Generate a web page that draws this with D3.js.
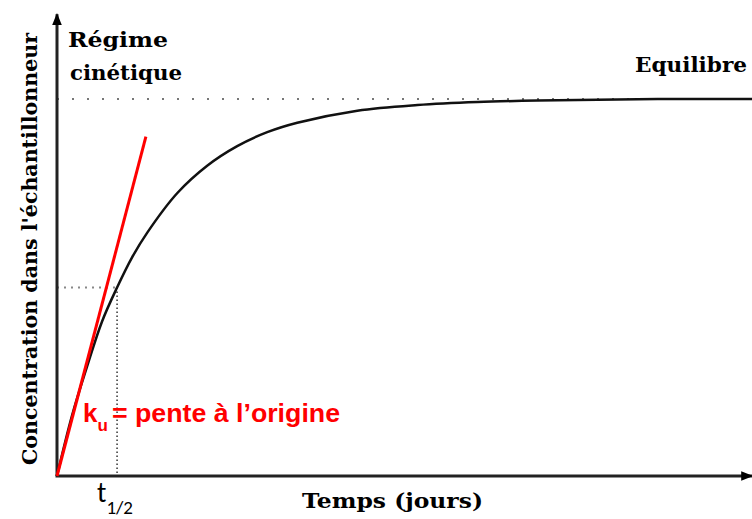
<!DOCTYPE html>
<html>
<head>
<meta charset="utf-8">
<style>
  body { margin: 0; background: #fff; }
  svg text { font-family: "DejaVu Serif", serif; }
</style>
</head>
<body>
<div id="chart"></div>
<script src="https://cdn.jsdelivr.net/npm/d3@7"></script>
<script>
// --- data (time in units of t1/2, concentration relative to equilibrium)
var times  = [0, 0.25, 0.5, 0.75, 1, 1.25, 1.5, 2, 2.5, 3, 3.5, 4, 5, 6, 7, 8, 9, 10, 11.57];
var concs  = [0, 0.16, 0.29, 0.41, 0.5, 0.58, 0.645, 0.75, 0.823, 0.875, 0.912, 0.937, 0.969, 0.984, 0.992, 0.996, 0.998, 1, 1];
var slopeT = [0, 1.48];          // tangent at origin
var slopeC = [0, 0.9];
var tHalf = 1, cHalf = 0.5, cEq = 1;
var xMax = 11.57, yMax = 1.225;

var width = 752, height = 519;
var svg = d3.select("#chart").append("svg")
    .attr("width", width)
    .attr("height", height);

var x = d3.scaleLinear().domain([0, xMax]).range([57, 752]);
var y = d3.scaleLinear().domain([0, 1]).range([476, 99]);

var curve = times.map(function(t, i) { return [t, concs[i]]; });
var tangent = slopeT.map(function(t, i) { return [t, slopeC[i]]; });

// arrow heads
var defs = svg.append("defs");
defs.append("marker")
    .attr("id", "arrow")
    .attr("viewBox", "0 0 10 10")
    .attr("refX", 9).attr("refY", 5)
    .attr("markerWidth", 4).attr("markerHeight", 4)
    .attr("markerUnits", "strokeWidth")
    .attr("orient", "auto")
  .append("path")
    .attr("d", "M0,1 L10,5 L0,9 Z")
    .attr("fill", "#000");

// dotted guide lines
svg.append("line")
    .attr("x1", x(0)).attr("x2", x(xMax))
    .attr("y1", y(cEq)).attr("y2", y(cEq))
    .attr("stroke", "#777").attr("stroke-width", 2)
    .attr("stroke-dasharray", "2,13");

svg.append("line")
    .attr("x1", x(0)).attr("x2", x(tHalf))
    .attr("y1", y(cHalf)).attr("y2", y(cHalf))
    .attr("stroke", "#888").attr("stroke-width", 2)
    .attr("stroke-dasharray", "2,5");

svg.append("line")
    .attr("x1", x(tHalf)).attr("x2", x(tHalf))
    .attr("y1", y(cHalf)).attr("y2", y(0))
    .attr("stroke", "#333").attr("stroke-width", 1.5)
    .attr("stroke-dasharray", "1.5,2.5");

// curve
var line = d3.line()
    .x(function(d) { return x(d[0]); })
    .y(function(d) { return y(d[1]); })
    .curve(d3.curveCatmullRom.alpha(0.5));

svg.append("path")
    .datum(curve)
    .attr("fill", "none")
    .attr("stroke", "#111")
    .attr("stroke-width", 2.5)
    .attr("d", line);

// axes
svg.append("line")
    .attr("x1", x(0)).attr("y1", y(0))
    .attr("x2", x(0)).attr("y2", y(yMax))
    .attr("stroke", "#222").attr("stroke-width", 3)
    .attr("marker-end", "url(#arrow)");

svg.append("line")
    .attr("x1", x(0) - 1.5).attr("y1", y(0))
    .attr("x2", x(xMax)).attr("y2", y(0))
    .attr("stroke", "#222").attr("stroke-width", 3)
    .attr("marker-end", "url(#arrow)");

// red tangent
svg.append("path")
    .datum(tangent)
    .attr("fill", "none")
    .attr("stroke", "#f00")
    .attr("stroke-width", 3)
    .attr("d", d3.line().x(function(d) { return x(d[0]); }).y(function(d) { return y(d[1]); }));

// labels
svg.append("text")
    .attr("transform", "translate(37,249) rotate(-90)")
    .attr("text-anchor", "middle")
    .attr("font-weight", "bold")
    .attr("font-size", 21)
    .attr("textLength", 432)
    .attr("lengthAdjust", "spacingAndGlyphs")
    .text("Concentration dans l'échantillonneur");

svg.append("text")
    .attr("x", 302).attr("y", 508)
    .attr("font-weight", "bold")
    .attr("font-size", 20)
    .attr("textLength", 181)
    .attr("lengthAdjust", "spacingAndGlyphs")
    .text("Temps (jours)");

svg.append("text")
    .attr("x", 68).attr("y", 47)
    .attr("font-weight", "bold")
    .attr("font-size", 20)
    .attr("textLength", 100)
    .attr("lengthAdjust", "spacingAndGlyphs")
    .text("Régime");

svg.append("text")
    .attr("x", 70).attr("y", 80)
    .attr("font-weight", "bold")
    .attr("font-size", 20)
    .attr("textLength", 112)
    .attr("lengthAdjust", "spacingAndGlyphs")
    .text("cinétique");

svg.append("text")
    .attr("x", 635).attr("y", 72)
    .attr("font-weight", "bold")
    .attr("font-size", 20)
    .attr("textLength", 112)
    .attr("lengthAdjust", "spacingAndGlyphs")
    .text("Equilibre");

// t1/2
var th = svg.append("text")
    .style("font-family", "Carlito, 'Liberation Sans', sans-serif")
    .attr("x", 97).attr("y", 502);
th.append("tspan").attr("font-size", 28).text("t");
th.append("tspan").attr("font-size", 19).attr("dy", 12).text("1/2");

// k_u = pente à l'origine
var ku = svg.append("text")
    .style("font-family", "'Liberation Sans', Arial, sans-serif")
    .attr("fill", "#f00")
    .attr("font-weight", "bold")
    .attr("x", 83).attr("y", 422);
ku.append("tspan").attr("font-size", 26).text("k");
ku.append("tspan").attr("font-size", 17).attr("dy", 9).text("u");
ku.append("tspan").attr("font-size", 25).attr("x", 112).attr("y", 422)
    .attr("textLength", 228).attr("lengthAdjust", "spacingAndGlyphs")
    .text("= pente à l’origine");
</script>
</body>
</html>
